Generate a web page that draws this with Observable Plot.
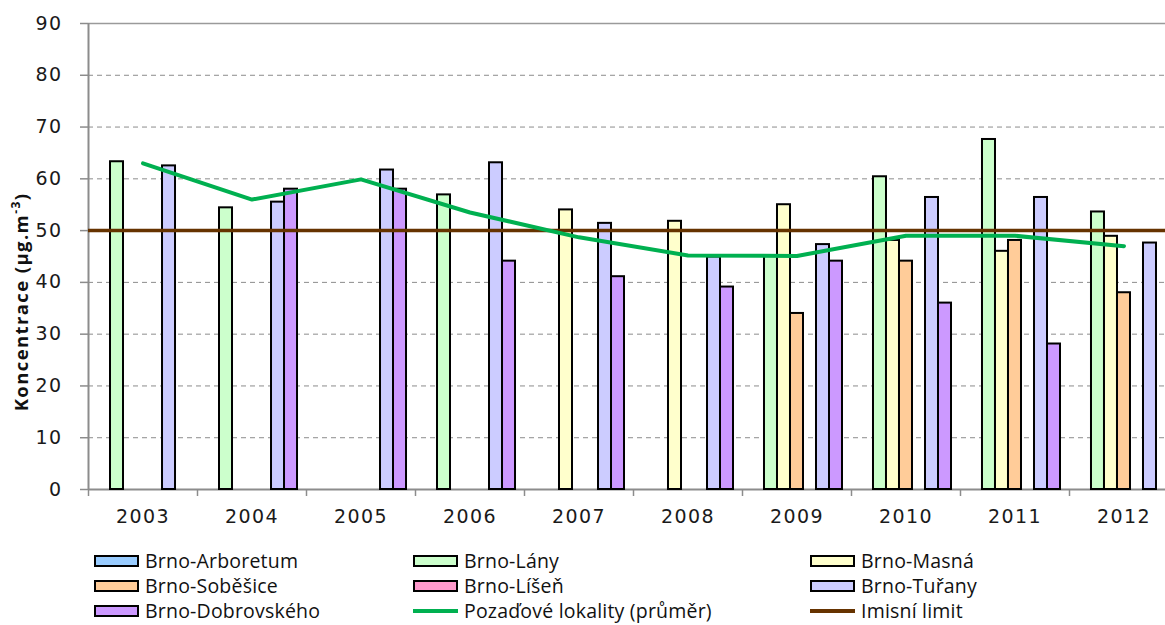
<!DOCTYPE html>
<html><head><meta charset="utf-8">
<script src="https://cdn.jsdelivr.net/npm/d3@7"></script>
<script src="https://cdn.jsdelivr.net/npm/@observablehq/plot@0.6"></script>
<style>
html,body{margin:0;padding:0;background:#fff;overflow:hidden}
#wrap{position:relative;width:1165px;height:625px;overflow:hidden;background:#fff}
.layer{position:absolute;left:0;top:0}
.layer svg{overflow:visible;background:transparent}
.lg{position:absolute;display:flex;align-items:center;font-family:"Open Sans",sans-serif;font-size:19.5px;color:#111;white-space:nowrap;line-height:1;letter-spacing:0.2px}
.sw{width:45px;height:12px;box-sizing:border-box;border:2px solid #000;margin-right:6px;flex:none}
.ln{width:45px;height:4px;margin-right:6px;flex:none}
.ticktxt text{letter-spacing:1.4px}
</style></head>
<body>
<div id="wrap">
  <div id="base" class="layer"></div>
  <div id="bars" class="layer"></div>
  <div id="over" class="layer"></div>
</div>
<script>
const years = [2003, 2004, 2005, 2006, 2007, 2008, 2009, 2010, 2011, 2012];
const series = ["Brno-Arboretum", "Brno-Lány", "Brno-Masná", "Brno-Soběšice", "Brno-Líšeň", "Brno-Tuřany", "Brno-Dobrovského"];
const colors = ["#99CCFF", "#CCFFCC", "#FFFFCC", "#FFCC99", "#FF99CC", "#CCCCFF", "#CC99FF"];
const arboretum   = [null, null, null, null, null, null, null, null, null, null];
const lany        = [63.3, 54.4, null, 56.9, null, null, 45.0, 60.4, 67.6, 53.6];
const masna       = [null, null, null, null, 54.0, 51.8, 55.0, 48.1, 46.0, 48.9];
const sobesice    = [null, null, null, null, null, null, 34.0, 44.1, 48.1, 38.0];
const lisen       = [null, null, null, null, null, null, null, null, null, null];
const turany      = [62.5, 55.5, 61.7, 63.1, 51.4, 44.9, 47.3, 56.4, 56.4, 47.6];
const dobrovskeho = [null, 58.0, 58.0, 44.1, 41.1, 39.1, 44.1, 36.0, 28.1, null];
const average     = [63.0, 56.0, 59.9, 53.5, 48.7, 45.2, 45.1, 49.0, 49.0, 47.0];
const limit = 50;
const yTicks = [0, 10, 20, 30, 40, 50, 60, 70, 80, 90];
const lineName = "Pozaďové lokality (průměr)";
const limitName = "Imisní limit";
const lineColor = "#00B050";
const limitColor = "#663300";

const seriesValues = [arboretum, lany, masna, sobesice, lisen, turany, dobrovskeho];
const barData = [];
years.forEach((yr, i) => seriesValues.forEach((arr, j) => {
  if (arr[i] != null) barData.push({year: yr, series: series[j], value: arr[i]});
}));

const W = 1165, H = 540;
const dims = {width: W, height: H, marginLeft: 88, marginRight: -13, marginTop: 23, marginBottom: 51};
const xLin = {type: "linear", domain: [years[0] - 0.5, years[years.length - 1] + 0.5], axis: null};
const yS = {domain: [yTicks[0], yTicks[yTicks.length - 1]], axis: null};
const boundaries = years.map(y => y - 0.5);

const base = Plot.plot({
  ...dims, x: xLin, y: yS,
  className: "ticktxt",
  style: {fontFamily: "DejaVu Sans, sans-serif", fontSize: "19px", color: "#1a1a1a", background: "transparent"},
  marks: [
    Plot.ruleY(yTicks.slice(1, -1), {stroke: "#8c8c8c", strokeWidth: 1, strokeDasharray: "5,4"}),
    Plot.ruleY([yTicks[yTicks.length - 1]], {stroke: "#9a9a9a", strokeWidth: 1.5}),
    Plot.ruleY([yTicks[0]], {stroke: "#8c8c8c", strokeWidth: 2}),
    Plot.ruleX([years[0] - 0.5], {stroke: "#8c8c8c", strokeWidth: 2}),
    Plot.axisY({ticks: yTicks, tickSize: 8, tickPadding: 18, label: null, stroke: "#8c8c8c", strokeWidth: 1.5, fontSize: 19}),
    Plot.axisX({ticks: boundaries, tickFormat: () => "", tickSize: 7, label: null, stroke: "#8c8c8c", strokeWidth: 1.5}),
    Plot.axisX({ticks: years, tickFormat: d => String(d), tickSize: 0, tickPadding: 20, label: null, fontSize: 19})
  ]
});
document.getElementById("base").appendChild(base);

// y-axis title with superscript
const svgB = d3.select(base);
const t = svgB.append("text")
  .attr("transform", "translate(28,302) rotate(-90)")
  .attr("text-anchor", "middle")
  .attr("font-family", "Open Sans, sans-serif")
  .attr("font-size", 18.5)
  .attr("font-weight", 700)
  .attr("letter-spacing", "-0.3px")
  .attr("fill", "#111");
t.append("tspan").text("Koncentrace (µg.m");
t.append("tspan").attr("font-size", 12).attr("dy", -8).text("-3");
t.append("tspan").attr("dy", 8).text(")");

const bars = Plot.plot({
  ...dims,
  fx: {domain: years, paddingInner: 0.165, paddingOuter: 0.0826, round: false, axis: null, label: null},
  x: {domain: series, padding: 0, round: false, axis: null},
  y: yS,
  color: {domain: series, range: colors},
  facet: {data: barData, x: "year"},
  style: {background: "transparent"},
  marks: [
    Plot.barY(barData, {x: "series", y: "value", fill: "series", stroke: "#000", strokeWidth: 2, inset: 0})
  ]
});
document.getElementById("bars").appendChild(bars);

const over = Plot.plot({
  ...dims, x: xLin, y: yS,
  style: {background: "transparent"},
  marks: [
    Plot.ruleY([limit], {stroke: limitColor, strokeWidth: 3.5}),
    Plot.lineY(average, {x: years, y: average, stroke: lineColor, strokeWidth: 4, strokeLinejoin: "round", strokeLinecap: "round"})
  ]
});
document.getElementById("over").appendChild(over);

// legend
const wrap = document.getElementById("wrap");
const items = series.map((s, i) => ({name: s, color: colors[i], type: "box"}))
  .concat([{name: lineName, color: lineColor, type: "line"}, {name: limitName, color: limitColor, type: "line"}]);
const colX = [94, 413, 810];
const rowY = [561, 586, 611];
items.forEach((it, k) => {
  const d = document.createElement("div");
  d.className = "lg";
  d.style.left = colX[k % 3] + "px";
  d.style.top = (rowY[Math.floor(k / 3)] - 12) + "px";
  d.style.height = "24px";
  const sw = document.createElement("div");
  sw.className = it.type === "box" ? "sw" : "ln";
  sw.style.background = it.color;
  d.appendChild(sw);
  const tx = document.createElement("span");
  tx.textContent = it.name;
  d.appendChild(tx);
  wrap.appendChild(d);
});
</script>
</body></html>
